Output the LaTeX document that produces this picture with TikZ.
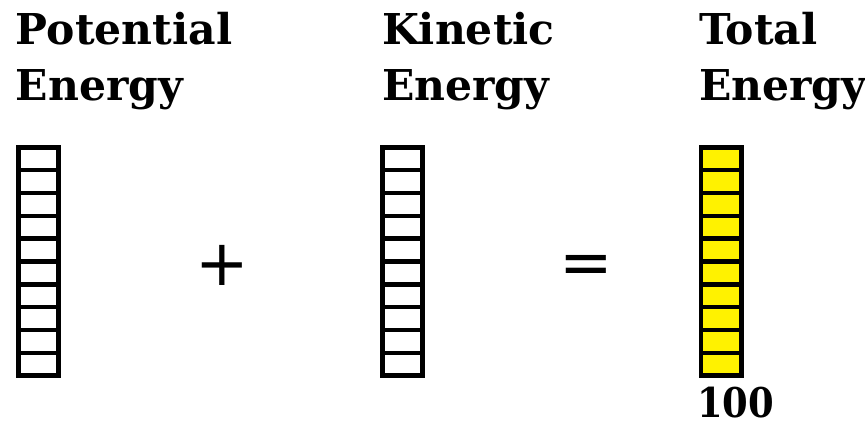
\documentclass[tikz,border=0pt]{standalone}
\usepackage{fontspec}
\setmainfont{DejaVu Serif}
\newfontfamily\opfont{DejaVu Sans}
\usetikzlibrary{calc}
\tikzset{
  title/.style={font=\bfseries\fontsize{42.5}{56}\selectfont, inner sep=0pt, outer sep=0pt, align=left, anchor=base west},
  num/.style={font=\bfseries\fontsize{41}{41}\selectfont, inner sep=0pt, outer sep=0pt, anchor=base west},
  bar/.style={draw=black, line width=4.8pt, minimum width=40.2pt, minimum height=228.2pt, inner sep=0pt, outer sep=0pt},
  cell/.style={draw=black, line width=4.5pt},
  op/.style={font=\opfont\fontsize{64}{64}\selectfont, inner sep=0pt, outer sep=0pt}
}
\begin{document}
\begin{tikzpicture}[x=1pt, y=-1pt]
\useasboundingbox (0,0) rectangle (865,426);
\node[title] (tpot) at (16,100) {Potential\\Energy};
\node[title] (tkin) at (382,100) {Kinetic\\Energy};
\node[title] (ttot) at (699,100) {Total\\Energy};
\node[bar] (bpot) at (38.5,261.5) {};
\node[bar] (bkin) at (402.5,261.5) {};
\node[bar, fill=yellow] (btot) at (721,261.5) {};
\foreach \b in {bpot,bkin,btot}{
  \foreach \k in {1,...,9}{
    \draw[cell] ($(\b.north west)!\k/10!(\b.south west)$) -- ($(\b.north east)!\k/10!(\b.south east)$);
  }
}
\node[op] (plus) at (222.5,265.5) {+};
\node[op] (eq) at (586.5,270) {=};
\node[num, xscale=0.9] (val) at (697,417) {100};
\end{tikzpicture}
\end{document}
